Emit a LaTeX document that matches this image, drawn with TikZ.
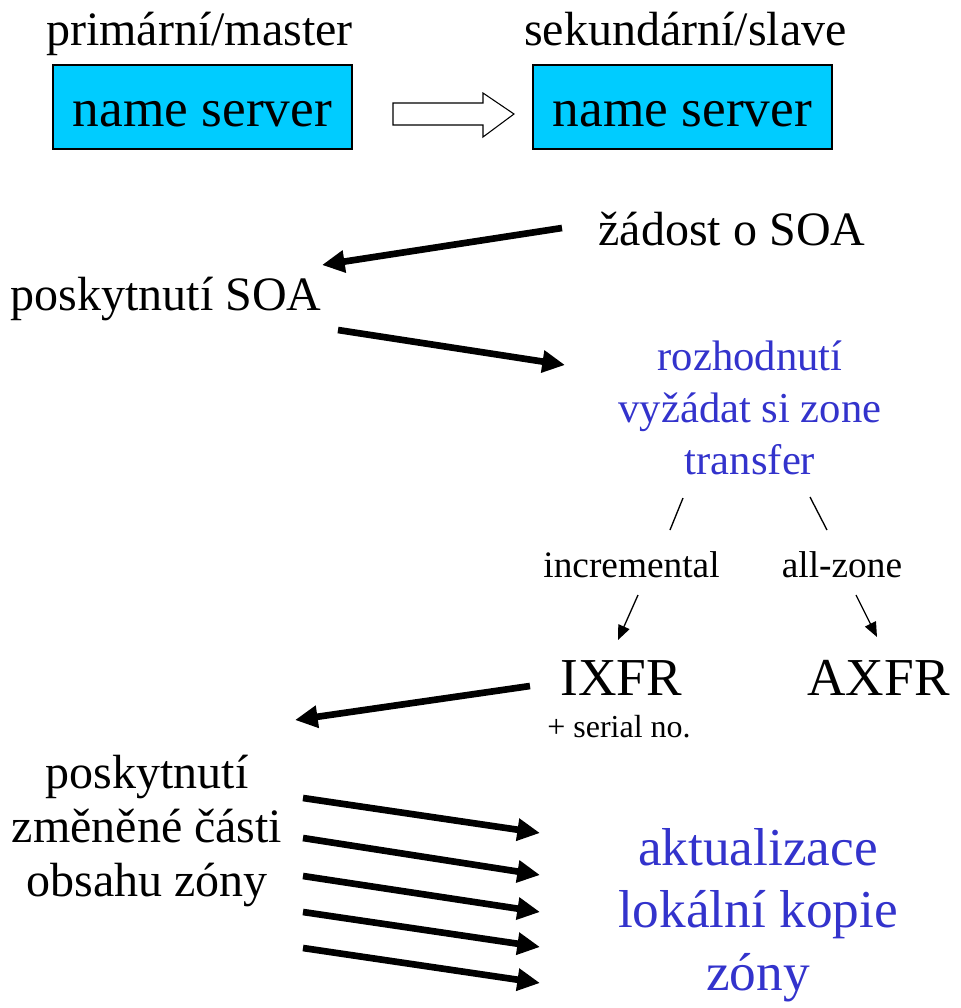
\documentclass[tikz,border=0pt]{standalone}
\usepackage{fontspec}
\setmainfont{Liberation Serif}
\usetikzlibrary{arrows.meta}
\definecolor{boxcyan}{RGB}{0,204,255}
\definecolor{txtblue}{RGB}{51,51,204}
\begin{document}
\begin{tikzpicture}[x=0.75pt,y=-0.75pt,
  lbl/.style={anchor=base,inner sep=0pt},
  fa/.style={font=\fontsize{40}{47}\selectfont},
  fb/.style={font=\fontsize{36}{40.5}\selectfont},
  fc/.style={font=\fontsize{32}{39}\selectfont},
  fd/.style={font=\fontsize{28}{34}\selectfont},
  fe/.style={font=\fontsize{24}{29}\selectfont},
  srv/.style={draw=black,line width=0.8pt,fill=boxcyan,minimum width=224.25pt,
    minimum height=63pt,inner sep=0pt,text height=30pt,text depth=1.5pt,
    font=\fontsize{40}{48}\selectfont},
  bigarrow/.style={line width=5pt,-{Triangle[length=17pt,width=16pt]}},
  smallarrow/.style={line width=1pt,-{Triangle[length=11pt,width=9pt]}},
  tickline/.style={line width=1pt}]
\useasboundingbox (0,0) rectangle (961,1008);

% top servers
\node[lbl,fb] (mlabel) at (199.5,45) {primární/master};
\node[lbl,fb] (slabel) at (685.5,45) {sekundární/slave};
\node[srv] (master) at (202.5,107) {name server};
\node[srv] (slave) at (682.5,107) {name server};
\draw[line width=0.8pt,fill=white] (393,103) -- (483,103) -- (483,93) -- (514,114)
  -- (483,137) -- (483,125) -- (393,125) -- cycle;

% SOA exchange
\node[lbl,fb] (req) at (732,245) {žádost o SOA};
\node[lbl,fb] (soa) at (166,310) {poskytnutí SOA};
\node[lbl,fc,text=txtblue] (decide) at (750,370)
  {\begin{tabular}[t]{@{}c@{}}rozhodnutí\\vyžádat si zone\\transfer\end{tabular}};
\coordinate (a1s) at (562,228); \coordinate (a1e) at (322,265);
\coordinate (a2s) at (338,330); \coordinate (a2e) at (565,365);
\draw[bigarrow] (a1s) -- (a1e);
\draw[bigarrow] (a2s) -- (a2e);

% branches
\coordinate (t1s) at (683,498); \coordinate (t1e) at (670,530);
\coordinate (t2s) at (810,497); \coordinate (t2e) at (827,530);
\draw[tickline] (t1s) -- (t1e);
\draw[tickline] (t2s) -- (t2e);
\node[lbl,fd] (incr) at (631.5,577) {incremental};
\node[lbl,fd] (allz) at (842,577) {all-zone};
\node[lbl,fa] (ixfr) at (621,695) {IXFR};
\node[lbl,fa] (axfr) at (878.5,695) {AXFR};
\node[lbl,fe] (serial) at (619,737) {+ serial no.};
\coordinate (s1s) at (638,595); \coordinate (s1e) at (618,640);
\coordinate (s2s) at (856,595); \coordinate (s2e) at (877,637);
\draw[smallarrow] (s1s) -- (s1e);
\draw[smallarrow] (s2s) -- (s2e);

% transfer
\coordinate (a3s) at (530,686); \coordinate (a3e) at (295,720);
\draw[bigarrow] (a3s) -- (a3e);
\node[lbl,fb] (part) at (147,788)
  {\begin{tabular}[t]{@{}c@{}}poskytnutí\\změněné části\\obsahu zóny\end{tabular}};
\node[lbl,fa,text=txtblue] (update) at (758,865)
  {\begin{tabular}[t]{@{}c@{}}aktualizace\\lokální kopie\\zóny\end{tabular}};
\coordinate (b1s) at (303,798); \coordinate (b1e) at (540,833);
\coordinate (b2s) at (303,838); \coordinate (b2e) at (540,875);
\coordinate (b3s) at (303,876); \coordinate (b3e) at (540,912);
\coordinate (b4s) at (303,912); \coordinate (b4e) at (540,947);
\coordinate (b5s) at (303,948); \coordinate (b5e) at (540,983);
\foreach \i in {1,...,5} \draw[bigarrow] (b\i s) -- (b\i e);
\end{tikzpicture}
\end{document}
